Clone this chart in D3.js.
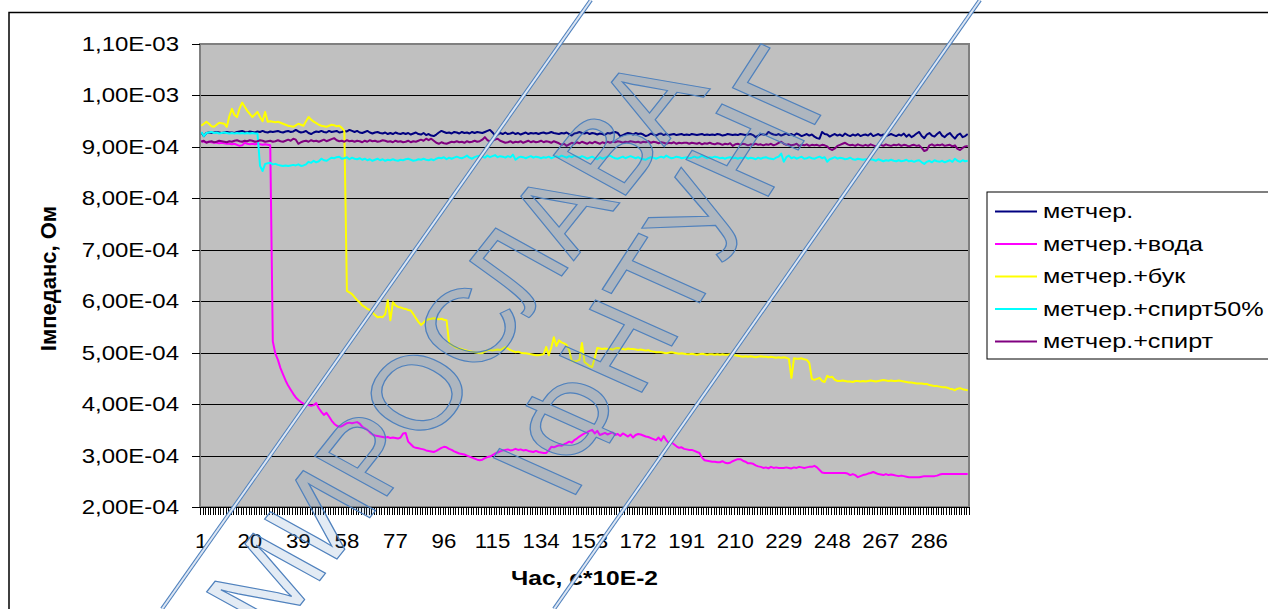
<!DOCTYPE html>
<html><head><meta charset="utf-8">
<script src="https://cdn.jsdelivr.net/npm/d3@7"></script>
<style>
html,body{margin:0;padding:0;background:#fff;}
svg{display:block;font-family:Arial,"Liberation Sans",sans-serif;}
</style></head><body>
<svg id="chart" width="1268" height="609"></svg>
<script>
// ---------------- DATA ----------------
const categories = d3.range(1, 302); // 1..301
const xTickLabels = [1,20,39,58,77,96,115,134,153,172,191,210,229,248,267,286];
const yTickValues = [2e-4,3e-4,4e-4,5e-4,6e-4,7e-4,8e-4,9e-4,1e-3,1.1e-3];
const yTickLabels = ["2,00E-04","3,00E-04","4,00E-04","5,00E-04","6,00E-04","7,00E-04","8,00E-04","9,00E-04","1,00E-03","1,10E-03"];
const seriesNames = ["метчер.","метчер.+вода","метчер.+бук","метчер.+спирт50%","метчер.+спирт"];
const seriesColors = ["#000080","#FF00FF","#FFFF00","#00FFFF","#800080"];
const xTitle = "Час, с*10E-2";
const yTitle = "Імпеданс, Ом";

// values in micro-ohm (x 1e-6 Ohm)
const metcher = [
928,921,927,928,927,928,929,928,927,928,
929,928,928,927,929,930,931,929,928,930,
929,928,930,929,931,929,928,930,929,930,
931,929,928,930,931,929,930,933,930,928,
929,931,927,925,928,930,929,931,929,928,
931,929,930,931,928,929,931,930,933,931,
929,931,928,927,929,931,928,926,928,929,
927,926,928,925,927,925,928,926,925,927,
925,927,924,926,928,925,924,927,923,925,
922,921,924,928,931,929,927,928,926,929,
928,926,929,927,928,926,929,927,929,928,
927,929,931,933,928,922,924,927,925,928,
925,926,928,925,927,924,926,928,925,927,
926,927,925,927,928,926,927,929,927,926,
925,927,926,928,925,922,926,927,929,927,
926,928,925,927,926,924,926,925,923,927,
926,928,929,927,921,923,925,927,926,924,
927,925,926,924,921,923,926,924,922,925,
926,923,925,923,924,925,923,924,925,923,
924,923,925,924,923,924,925,923,924,923,
924,923,925,924,922,923,925,924,923,924,
923,925,924,923,924,925,923,919,922,925,
924,923,929,926,924,923,925,922,924,926,
923,925,922,926,924,921,923,925,922,924,
920,917,916,929,925,924,920,923,925,922,
924,921,926,923,921,924,922,925,921,923,
924,922,926,921,923,925,922,924,921,923,
925,923,921,924,922,926,920,924,919,922,
926,929,921,917,924,927,922,920,925,929,
922,919,924,927,921,916,923,926,919,921,
925];

const metcherVoda = [
912,910,909,910,909,908,908,907,908,907,
906,906,905,906,904,902,903,908,906,905,
906,905,906,905,904,905,904,903,522,498,
486,470,458,446,436,428,420,413,408,404,
401,399,398,397,398,402,392,385,379,383,
376,368,362,358,356,357,360,363,364,363,
364,365,362,356,353,350,345,341,339,338,
337,336,335,336,334,335,334,333,335,343,
344,327,322,317,315,314,313,312,310,309,
308,307,309,312,315,317,316,313,311,308,
306,304,303,302,300,298,296,294,292,291,
292,295,297,298,301,304,306,308,310,311,
312,310,311,313,311,312,310,311,309,308,
307,309,307,306,305,305,310,317,316,318,
320,319,322,324,327,325,330,333,337,340,
343,345,348,350,343,348,340,342,344,341,
343,345,340,342,338,343,340,337,341,335,
340,342,341,339,337,336,334,332,330,335,
329,338,330,324,326,322,318,315,316,313,
312,311,311,309,307,305,296,291,290,289,
288,288,287,287,289,286,285,286,289,291,
293,293,290,288,285,285,284,281,279,278,
276,277,275,278,276,277,276,276,276,277,
276,275,277,276,278,277,276,277,278,278,
280,277,272,267,266,266,266,266,266,266,
266,266,266,265,262,264,262,258,260,262,
263,265,266,268,266,264,263,262,264,262,
263,262,261,260,261,260,259,258,258,258,
258,258,259,260,260,260,260,260,261,263,
264,264,264,264,264,264,264,264,264,264,
264];

const metcherBuk = [
941,945,949,945,940,939,943,947,946,945,
939,960,974,962,958,975,986,978,970,964,
958,963,968,958,950,968,949,950,949,948,
949,947,945,943,941,940,939,942,945,943,
941,950,958,953,949,946,943,941,940,939,
941,943,942,940,941,937,931,620,617,614,
608,602,598,592,589,585,583,578,573,569,
570,569,575,602,563,598,592,589,588,586,
585,583,582,575,567,560,554,558,563,565,
566,567,566,565,566,564,563,519,515,512,
509,508,507,505,504,503,502,501,500,499,
499,502,505,505,504,505,506,505,508,511,
508,505,503,501,502,500,499,499,498,497,
496,495,495,496,497,511,495,510,530,513,
524,520,518,515,505,484,483,484,486,519,
482,478,474,472,490,509,508,507,508,507,
507,506,508,509,508,507,506,508,507,507,
506,505,506,505,504,505,503,502,501,501,
501,500,499,500,501,500,499,498,499,498,
497,497,498,497,496,497,498,497,496,497,
497,496,497,496,497,496,496,497,496,495,
494,493,492,493,492,493,492,491,492,493,
492,492,491,492,491,490,491,490,491,490,
488,451,489,488,488,489,487,486,480,449,
447,449,451,445,443,455,452,453,447,445,
445,446,445,444,444,443,445,445,444,445,
444,445,446,445,444,445,446,447,446,445,
446,445,445,446,445,444,443,442,442,441,
440,440,440,439,439,437,436,435,435,434,
433,433,432,430,429,427,430,431,429,428,
427];

const metcherSpirt50 = [
929,921,927,928,929,927,928,926,927,928,
927,926,927,926,927,926,927,926,927,926,
927,926,926,863,853,867,868,869,866,867,
865,864,863,864,863,864,865,864,866,863,
864,866,871,869,873,870,872,877,874,873,
876,879,878,880,881,877,878,880,876,879,
877,876,878,875,877,874,876,873,875,877,
874,876,873,875,874,876,874,873,875,874,
876,877,875,873,874,876,875,877,875,874,
876,874,877,879,878,880,876,879,877,879,
881,879,878,880,883,879,877,880,882,883,
881,879,883,880,882,884,880,882,881,879,
882,880,885,875,879,881,880,878,880,882,
879,881,880,878,880,879,881,878,880,882,
880,883,881,879,882,880,883,881,879,882,
880,877,879,881,878,876,880,877,879,881,
883,880,878,877,879,881,878,880,882,880,
878,880,877,876,875,878,880,879,877,879,
881,879,883,880,878,879,881,880,878,879,
880,878,879,881,879,880,883,880,878,880,
879,881,880,878,879,877,879,880,878,879,
877,879,878,880,877,879,878,876,879,877,
879,880,878,877,876,879,881,887,871,880,
883,878,880,877,879,881,877,878,880,878,
877,879,881,878,880,871,876,878,880,877,
879,878,876,877,879,876,875,877,876,875,
876,874,876,875,873,876,874,872,874,873,
875,873,872,874,872,873,875,872,873,871,
873,874,870,867,871,873,870,874,872,871,
873,870,872,874,871,877,873,871,874,872,
873];

const metcherSpirt = [
910,912,908,910,911,909,910,912,911,910,
909,911,910,912,913,911,910,912,911,913,
912,910,911,913,912,910,911,912,910,911,
913,911,910,912,914,912,916,914,906,909,
911,912,910,913,911,912,910,912,914,911,
913,915,917,913,911,912,910,913,911,912,
910,912,911,909,912,910,913,911,912,910,
911,913,912,910,911,909,912,910,911,909,
910,912,909,911,910,912,914,912,916,913,
916,912,908,906,909,907,906,908,910,909,
911,909,910,908,911,909,910,912,910,911,
914,919,913,911,912,914,916,912,910,908,
909,911,908,910,909,911,908,910,912,909,
911,909,910,912,909,911,910,908,911,909,
907,904,906,902,905,908,906,909,907,910,
908,906,909,907,910,908,906,909,907,910,
908,910,909,911,910,908,910,909,911,910,
909,910,908,910,909,911,908,910,909,907,
909,908,906,908,907,909,906,908,907,908,
908,906,908,907,906,908,905,907,906,908,
906,905,907,906,904,906,905,907,902,905,
906,904,906,905,903,905,904,906,904,905,
903,905,904,906,903,905,908,910,906,904,
905,903,904,906,902,904,903,905,902,904,
903,904,902,904,903,901,896,894,897,902,
904,906,908,905,903,904,902,905,903,902,
904,902,905,903,901,903,904,902,905,903,
902,904,903,905,902,904,903,901,903,904,
902,903,898,892,894,903,905,902,904,903,
905,902,903,904,901,903,896,894,898,901,
902];

const seriesValues = [metcher, metcherVoda, metcherBuk, metcherSpirt50, metcherSpirt];
const UNIT = 1e-6;

// ---------------- LAYOUT ----------------
const svg = d3.select("#chart");
const plot = {left:200, right:969, top:44, bottom:507};

// outer chart border
svg.append("rect").attr("x",9).attr("y",12.5).attr("width",1400).attr("height",800)
  .attr("fill","#fff").attr("stroke","#000").attr("stroke-width",1.5);

const x = d3.scaleBand().domain(categories).range([plot.left, plot.right]).padding(0);
const bw = x.bandwidth();
const y = d3.scaleLinear().domain([2e-4, 1.1e-3]).range([plot.bottom, plot.top]);

// plot background
svg.append("rect").attr("x",plot.left).attr("y",plot.top)
  .attr("width",plot.right-plot.left).attr("height",plot.bottom-plot.top)
  .attr("fill","#C0C0C0");

// gridlines
svg.append("g").selectAll("line").data(yTickValues.slice(1)).join("line")
  .attr("x1",plot.left).attr("x2",plot.right)
  .attr("y1",d=>Math.round(y(d))+0.5).attr("y2",d=>Math.round(y(d))+0.5)
  .attr("stroke","#000").attr("stroke-width",1);

// series lines
const line = d3.line().x((d,i)=>x(categories[i])+bw/2).y(d=>y(d*UNIT));
svg.append("g").selectAll("path").data(seriesValues).join("path")
  .attr("d",d=>line(d)).attr("fill","none")
  .attr("stroke",(d,i)=>seriesColors[i]).attr("stroke-width",2)
  .attr("stroke-linejoin","round");

// plot border
svg.append("rect").attr("x",plot.left).attr("y",plot.top)
  .attr("width",plot.right-plot.left).attr("height",plot.bottom-plot.top)
  .attr("fill","none").attr("stroke","#808080").attr("stroke-width",2);

// y axis
const yAxis = svg.append("g");
yAxis.selectAll("line").data(yTickValues).join("line")
  .attr("x1",plot.left-8).attr("x2",plot.left)
  .attr("y1",d=>Math.round(y(d))+0.5).attr("y2",d=>Math.round(y(d))+0.5)
  .attr("stroke","#000");
yAxis.selectAll("text").data(yTickValues).join("text")
  .attr("transform",d=>`translate(179,${y(d)+7}) scale(1.2,1)`)
  .attr("text-anchor","end").attr("font-size",20).attr("fill","#000")
  .text((d,i)=>yTickLabels[i]);

// x axis ticks (every category boundary)
const bounds = categories.map(c=>x(c)).concat([plot.right]);
svg.append("g").selectAll("line").data(bounds).join("line")
  .attr("x1",d=>Math.round(d)+0.5).attr("x2",d=>Math.round(d)+0.5)
  .attr("y1",plot.bottom).attr("y2",plot.bottom+8)
  .attr("stroke","#000").attr("stroke-width",1);
svg.append("line").attr("x1",plot.left).attr("x2",plot.right)
  .attr("y1",plot.bottom+0.5).attr("y2",plot.bottom+0.5).attr("stroke","#000");
svg.append("g").selectAll("text").data(xTickLabels).join("text")
  .attr("transform",d=>`translate(${x(d)+bw/2},548) scale(1.06,1)`)
  .attr("text-anchor","middle").attr("font-size",21).attr("fill","#000")
  .text(d=>d);

// axis titles
svg.append("text").attr("transform",`translate(${(plot.left+plot.right)/2},585) scale(1.17,1)`)
  .attr("text-anchor","middle").attr("font-size",21).attr("font-weight","bold").text(xTitle);
svg.append("text").attr("transform",`translate(56,${(plot.top+plot.bottom)/2+3}) rotate(-90)`)
  .attr("text-anchor","middle").attr("font-size",22).attr("font-weight","bold").text(yTitle);

// legend
const lg = svg.append("g");
lg.append("rect").attr("x",987).attr("y",192).attr("width",400).attr("height",167)
  .attr("fill","#fff").attr("stroke","#000").attr("stroke-width",1);
const rows = lg.selectAll("g").data(seriesNames).join("g")
  .attr("transform",(d,i)=>`translate(0,${211.5+i*32.5})`);
rows.append("line").attr("x1",995).attr("x2",1037).attr("y1",0).attr("y2",0)
  .attr("stroke",(d,i)=>seriesColors[i]).attr("stroke-width",2);
rows.append("text").attr("transform","translate(1043,6.5) scale(1.26,1)")
  .attr("font-size",20).attr("fill","#000").text(d=>d);

// watermark (horizontally stretched like the rest of the picture)
const wm = svg.append("g");
const wmStyle = s => s.attr("text-anchor","middle").attr("dy","0.36em")
  .attr("fill","rgba(79,129,189,0.16)").attr("stroke","#4F81BD").attr("stroke-width",1.1);
wm.append("text").attr("transform","translate(454,343) scale(1.2,1) rotate(-56.5)")
  .attr("font-size",105).call(wmStyle).text("МИРОСЛАВА");
wm.append("text").attr("transform","translate(664,272) scale(1.2,1) rotate(-61.7)")
  .attr("font-size",113).call(wmStyle).text("ІФНТУНГ");
const dbl = [[162,609,591,0],[980,0,554,609]];
wm.selectAll("line.o").data(dbl).join("line").attr("class","o")
  .attr("x1",d=>d[0]).attr("y1",d=>d[1]).attr("x2",d=>d[2]).attr("y2",d=>d[3])
  .attr("stroke","#4F81BD").attr("stroke-width",4);
wm.selectAll("line.i").data(dbl).join("line").attr("class","i")
  .attr("x1",d=>d[0]).attr("y1",d=>d[1]).attr("x2",d=>d[2]).attr("y2",d=>d[3])
  .attr("stroke","rgba(235,241,250,0.9)").attr("stroke-width",2);
</script>
</body></html>
